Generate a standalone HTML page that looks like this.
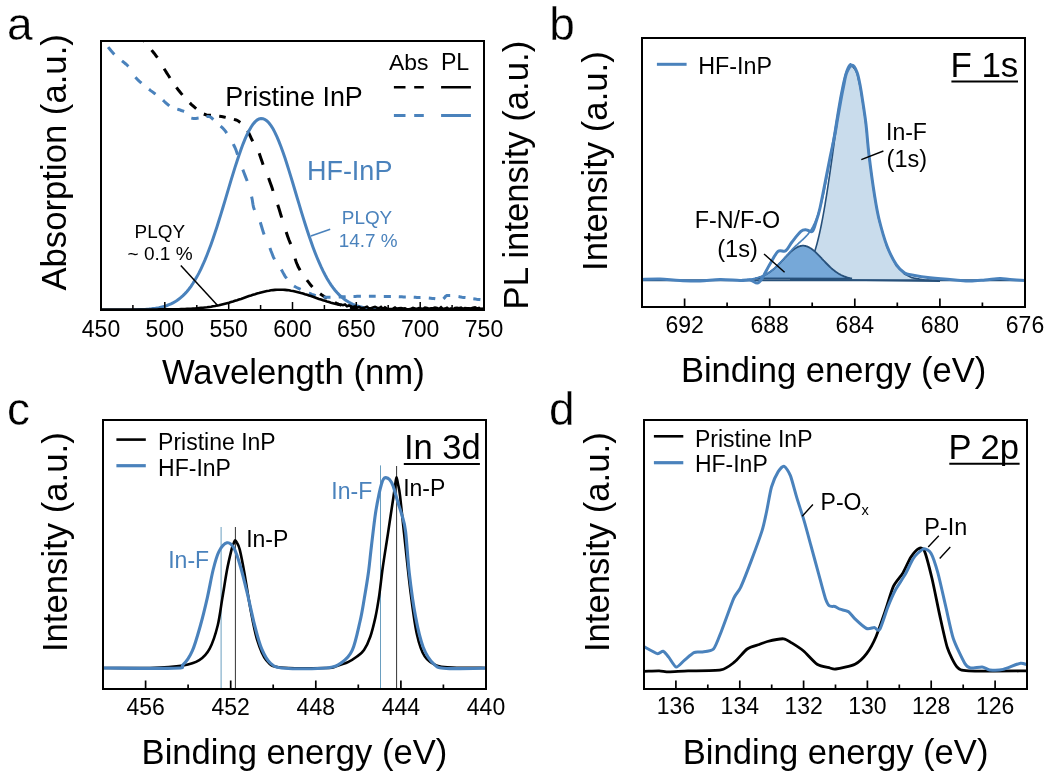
<!DOCTYPE html>
<html><head><meta charset="utf-8"><style>html,body{margin:0;padding:0;background:#fff;width:1051px;height:779px;overflow:hidden}svg{display:block;will-change:transform}</style></head><body>
<svg width="1051" height="779" viewBox="0 0 1051 779" font-family='"Liberation Sans", sans-serif'>
<rect width="1051" height="779" fill="#fff"/>
<defs><clipPath id="ca"><rect x="101" y="41" width="383" height="269"/></clipPath>
<clipPath id="cb"><rect x="642" y="38" width="383" height="269"/></clipPath>
<clipPath id="cc"><rect x="103" y="420" width="383" height="269"/></clipPath>
<clipPath id="cd"><rect x="644" y="420" width="383" height="269"/></clipPath></defs>
<g clip-path="url(#ca)">
<path d="M141 37 L141.8 38.1 L143 39.7 L144.5 41.6 M151.6 50.1 L154.1 53.2 L156.6 56.5 L157.4 57.7 M164.1 68.8 L165.4 70.8 L166.7 72.9 L168.1 75 L169.5 77.2 L170 78 M176.4 87.4 L178 89.5 L179.6 91.5 L181.3 93.6 L182.4 94.9 M189.8 102.9 L191.5 104.6 L193.3 106.2 L195 107.7 L196.2 108.7 M203.8 114 L206.4 115 L208.8 115.3 L211 115.3 M219.2 116.3 L221.6 116.6 L223.8 117 L225.7 117.4 M233.9 119.4 L236.2 120 L238.3 121 L240.3 122.4 M247.7 130.7 L249.1 133.6 L250.5 136.6 L251.8 139.5 L252.8 141.2 M259.2 153.3 L260.7 157.7 L262.2 162.1 L263.1 164.7 M268.6 178.1 L269.7 181.2 L270.9 184.6 L272.2 188.3 L273 190.9 M277.7 204.8 L279 208.8 L280 212 L280.8 214.8 L281.7 217.6 M286.2 232.1 L287.7 236.4 L289.1 240.2 L290.3 243.1 L290.7 244.1 M295.1 258.6 L296.2 262 L297.3 264.7 L298.3 267 L299.6 269.3 L300.1 270.2 M306.9 280.1 L308.7 282.4 L310.5 284.8 L312.4 287 M320.1 293.8 L321.5 294.8 L323 295.8 L324.5 296.8 L326 297.7 L327 298.3 M334.9 302.5 L336.7 303.4 L338.5 304.2 L340.3 304.9 L341.5 305.3 M350 307.3 L352.1 307.7 L354.1 307.9 L355.6 308.1 L356.7 308.2 M364.6 308.6 L366.1 308.7 L367.7 308.7 L369.4 308.8 L371 308.8 L371.6 308.8 M379.7 309 L381.3 309 L382.9 309 L384.5 309.1 L386 309.1 L386.5 309.1 M394.4 309.1 L396.1 309.1 L397.8 309.1 L399.4 309.1 L401.1 309.2 L401.6 309.2 M409.4 309.2 L410.9 309.2 L412.5 309.2 L414.1 309.2 L415.7 309.2 L416.3 309.2 M424.6 309.2 L426.2 309.2 L427.7 309.2 L429.3 309.2 L430.8 309.2 L431.3 309.2 M439.6 309.2 L441.1 309.2 L442.7 309.2 L444.3 309.2 L445.9 309.2 L446.5 309.2 M454.5 309.2 L456.1 309.2 L457.7 309.2 L459.2 309.2 L460.8 309.2 L461.3 309.2 M469.4 309.2 L471 309.2 L472.7 309.2 L474.3 309.2 L475.9 309.2 L476.5 309.2 M484.4 309.2 L486 309.2" fill="none" stroke="#000" stroke-width="3"/>
<path d="M98 37 L98.9 37.7 L100.2 38.7 L101.3 39.5 M108.1 47.1 L109.5 48.8 L110.9 50.5 L112.4 52.2 L113.9 53.9 L114.4 54.4 M122 60.8 L123.9 62.4 L125.8 64 L127.5 65.5 L128.4 66.4 M135.4 77.3 L137.9 80 L139.4 81.3 L140.9 82.6 L141.4 83.1 M149 89.3 L150.7 90.6 L152.5 91.9 L154.3 93.2 L155.5 94.1 M163 100.1 L164.4 101.5 L165.8 102.8 L168.5 105.2 L169.3 105.9 M177.3 109.1 L179.3 109.7 L181.3 110.5 L183.4 111.2 L184.1 111.5 M191.3 118.1 L193.3 118.5 L195.9 118.5 L198.6 118.1 M206.5 116.5 L208.3 116.4 L210.1 116.8 L211.7 118 L213.3 119.6 M220.6 126.1 L222.5 127.8 L224.2 129.6 L225.8 131.7 L226.7 133.1 M233.3 144.1 L234.7 147 L236.1 150.2 L237.2 153.6 L237.6 154.8 M242.8 169.6 L244 172.7 L245.2 175.9 L246.4 179 L247.2 181 M251.6 196.7 L252.2 199.4 L252.6 202.1 L253 204.6 L253.5 207.2 L254.5 210 M260.3 222.2 L261.2 225.2 L262.1 228.2 L263 231.3 L264.1 234.5 M269.9 247.9 L271 251 L272.1 253.8 L273.2 256.6 L274.5 259.3 M281.3 269.5 L282.6 271.9 L283.8 274.1 L285.1 276.3 L286.7 278.4 M294 285.9 L295.2 286.7 L296.7 287.5 L299 288.6 L300.6 289.4 M308.9 293.1 L310.4 293.7 L311.9 294.3 L313.6 294.9 L315.7 295.6 M323.5 297 L325.2 297.2 L327.1 297.2 L329 297.3 L330.5 297.3 M338.7 297.1 L340.6 297 L342.6 296.8 L344.1 296.8 L345.7 296.7 M353.5 296.4 L355.3 296.4 L357.1 296.3 L358.9 296.3 L360.4 296.3 L360.9 296.3 M368.9 296.3 L370.6 296.3 L372.3 296.3 L374 296.3 L375.7 296.3 M383.8 296.4 L385.6 296.4 L387.2 296.4 L388.8 296.5 L390.3 296.5 L390.9 296.5 M398.8 296.7 L400.4 296.8 L401.9 296.8 L403.4 296.9 L405.2 296.9 L405.8 296.9 M413.7 297.2 L415.3 297.3 L416.9 297.4 L418.4 297.4 L419.9 297.5 L420.5 297.5 M428.8 298 L430.7 298.2 L432.4 298.4 L433.9 298.6 L435.3 298.8 M443.4 298.8 L444.6 297.7 L445.5 296.4 L446.9 295.5 L449.1 295.4 L450.2 295.4 M458.5 296.6 L460.5 296.9 L462 297.2 L463.7 297.4 L465.5 297.6 M473.3 298.7 L475 298.9 L476.6 299.2 L478.2 299.4 L479.8 299.6 L480.4 299.7" fill="none" stroke="#4a82bc" stroke-width="3"/>
<path d="M101 310 L103 310 L105 310 L107 310 L109 310 L111 310 L113 310 L115 310 L117 310 L119 310 L121 310 L123 309.9 L125 309.9 L127 309.9 L129 309.9 L131 309.9 L133 309.8 L135 309.8 L137 309.7 L139 309.6 L141 309.6 L143 309.5 L145 309.4 L147 309.2 L149 309.1 L151 308.9 L153 308.6 L155 308.4 L157 308.1 L159 307.7 L161 307.2 L163 306.7 L165 306.2 L167 305.5 L169 304.7 L171 303.9 L173 302.9 L175 301.7 L177 300.5 L179 299 L181 297.4 L183 295.6 L185 293.6 L187 291.4 L189 289 L191 286.3 L193 283.3 L195 280.1 L197 276.6 L199 272.9 L201 268.8 L203 264.5 L205 259.9 L207 255 L209 249.8 L211 244.4 L213 238.7 L215 232.8 L217 226.7 L219 220.3 L221 213.9 L223 207.3 L225 200.6 L227 193.8 L229 187.1 L231 180.4 L233 173.9 L235 167.4 L237 161.2 L239 155.2 L241 149.5 L243 144.1 L245 139.2 L247 134.7 L249 130.7 L251 127.2 L253 124.2 L255 121.9 L257 120.1 L259 119 L261 118.5 L263 118.7 L265 119.5 L267 120.9 L269 123 L271 125.6 L273 128.8 L275 132.6 L277 136.9 L279 141.6 L281 146.8 L283 152.3 L285 158.1 L287 164.3 L289 170.6 L291 177.1 L293 183.8 L295 190.5 L297 197.2 L299 203.9 L301 210.6 L303 217.1 L305 223.5 L307 229.7 L309 235.8 L311 241.6 L313 247.2 L315 252.5 L317 257.5 L319 262.2 L321 266.7 L323 270.9 L325 274.8 L327 278.4 L329 281.8 L331 284.8 L333 287.6 L335 290.2 L337 292.5 L339 294.6 L341 296.5 L343 298.2 L345 299.8 L347 301.1 L349 302.3 L351 303.4 L353 304.3 L355 305.1 L357 305.8 L359 306.5 L361 307 L363 307.5 L365 307.9 L367 308.2 L369 308.5 L371 308.8 L373 309 L375 309.1 L377 309.3 L379 309.4 L381 309.5 L383 309.6 L385 309.7 L387 309.7 L389 309.8 L391 309.8 L393 309.9 L395 309.9 L397 309.9 L399 309.9 L401 309.9 L403 310 L405 310 L407 310 L409 310 L411 310 L413 310 L415 310 L417 310 L419 310 L421 310 L423 310 L425 310 L427 310 L429 310 L431 310 L433 310 L435 310 L437 310 L439 310 L441 310 L443 310 L445 310 L447 310 L449 310 L451 310 L453 310 L455 310 L457 310 L459 310 L461 310 L463 310 L465 310 L467 310 L469 310 L471 310 L473 310 L475 310 L477 310 L479 310 L481 310 L483 310" fill="none" stroke="#4a82bc" stroke-width="3"/>
<path d="M101 309.5 L103 309.5 L105 309.5 L107 309.5 L109 309.5 L111 309.5 L113 309.5 L115 309.5 L117 309.5 L119 309.5 L121 309.5 L123 309.5 L125 309.5 L127 309.5 L129 309.5 L131 309.5 L133 309.5 L135 309.5 L137 309.5 L139 309.5 L141 309.5 L143 309.5 L145 309.5 L147 309.5 L149 309.5 L151 309.5 L153 309.5 L155 309.5 L157 309.5 L159 309.4 L161 309.4 L163 309.4 L165 309.4 L167 309.4 L169 309.4 L171 309.3 L173 309.3 L175 309.3 L177 309.2 L179 309.2 L181 309.1 L183 309.1 L185 309 L187 308.9 L189 308.8 L191 308.7 L193 308.6 L195 308.5 L197 308.3 L199 308.1 L201 307.9 L203 307.7 L205 307.5 L207 307.3 L209 307 L211 306.7 L213 306.3 L215 306 L217 305.6 L219 305.2 L221 304.7 L223 304.2 L225 303.7 L227 303.2 L229 302.7 L231 302.1 L233 301.5 L235 300.8 L237 300.2 L239 299.5 L241 298.9 L243 298.2 L245 297.5 L247 296.8 L249 296.1 L251 295.5 L253 294.8 L255 294.2 L257 293.5 L259 293 L261 292.4 L263 291.9 L265 291.4 L267 291 L269 290.7 L271 290.3 L273 290.1 L275 289.9 L277 289.8 L279 289.7 L281 289.7 L283 289.8 L285 289.9 L287 290.1 L289 290.3 L291 290.7 L293 291 L295 291.4 L297 291.9 L299 292.4 L301 293 L303 293.5 L305 294.2 L307 294.8 L309 295.5 L311 296.1 L313 296.8 L315 297.5 L317 298.2 L319 298.9 L321 299.5 L323 300.2 L325 300.8 L327 301.5 L329 302.1 L331 302.7 L333 303.2 L335 303.7 L337 304.2 L339 304.7 L341 304.5 L343 305.2 L345 304.5 L347 306.2 L349 305.5 L351 306.2 L353 307.1 L355 306.4 L357 307.7 L359 307 L361 308 L363 308.1 L365 307.5 L367 306.8 L369 308.4 L371 308.3 L373 307.5 L375 306.9 L377 307.8 L379 308.3 L381 307 L383 309.1 L385 307.4 L387 308.7 L389 309 L391 309.1 L393 308.7 L395 307.6 L397 309 L399 308.2 L401 308 L403 308.6 L405 308.3 L407 309.3 L409 309.3 L411 309 L413 308 L415 308.5 L417 308.8 L419 308.2 L421 308.5 L423 308.8 L425 307.7 L427 308 L429 309 L431 308.2 L433 308.3 L435 307.6 L437 307.9 L439 308.9 L441 307.3 L443 309.2 L445 308.6 L447 307.8 L449 309.2 L451 308.4 L453 309.4 L455 308 L457 307.8 L459 308.2 L461 307.6 L463 308.8 L465 308 L467 308.2 L469 308.2 L471 308.5 L473 307.7 L475 307.4 L477 308.5 L479 308 L481 309.4 L483 308" fill="none" stroke="#000" stroke-width="2.6"/>
</g>
<rect x="101" y="41" width="383" height="269" fill="none" stroke="#000" stroke-width="2"/>
<path d="M164.8 310 V302 M228.7 310 V302 M292.5 310 V302 M356.3 310 V302 M420.2 310 V302 M132.9 310 V305 M196.8 310 V305 M260.6 310 V305 M324.4 310 V305 M388.2 310 V305 M452.1 310 V305" stroke="#000" stroke-width="1.5" fill="none"/>
<text x="101" y="336.6" font-size="23" fill="#000" text-anchor="middle">450</text>
<text x="164.8" y="336.6" font-size="23" fill="#000" text-anchor="middle">500</text>
<text x="228.7" y="336.6" font-size="23" fill="#000" text-anchor="middle">550</text>
<text x="292.5" y="336.6" font-size="23" fill="#000" text-anchor="middle">600</text>
<text x="356.3" y="336.6" font-size="23" fill="#000" text-anchor="middle">650</text>
<text x="420.2" y="336.6" font-size="23" fill="#000" text-anchor="middle">700</text>
<text x="484" y="336.6" font-size="23" fill="#000" text-anchor="middle">750</text>
<text x="225.3" y="105.9" font-size="26.9" fill="#000" text-anchor="start">Pristine InP</text>
<text x="306.9" y="180.4" font-size="27" fill="#4a82bc" text-anchor="start">HF-InP</text>
<text x="388.9" y="69.6" font-size="22.9" fill="#000" text-anchor="start">Abs</text>
<text x="440.9" y="69.6" font-size="23.2" fill="#000" text-anchor="start">PL</text>
<path d="M393.9 87.2 H405.5 M414.2 87.2 H423.8 M441.1 87.2 H470.9" stroke="#000" stroke-width="2.6"/>
<path d="M393.9 115.4 H405.5 M414.2 115.4 H423.8 M441.1 115.4 H470.9" stroke="#4a82bc" stroke-width="3"/>
<text x="134.6" y="237.9" font-size="18.9" fill="#000" text-anchor="start">PLQY</text>
<text x="127.6" y="260.4" font-size="19" fill="#000" text-anchor="start">~ 0.1 %</text>
<path d="M180.8 265.4 L218.3 306.2" stroke="#000" stroke-width="1.5"/>
<text x="341.8" y="224.1" font-size="18.9" fill="#4a82bc" text-anchor="start">PLQY</text>
<text x="338.7" y="247.1" font-size="18.9" fill="#4a82bc" text-anchor="start">14.7 %</text>
<path d="M310.9 236.1 L330.2 229.3" stroke="#4a82bc" stroke-width="1.6"/>
<text x="7" y="39.5" font-size="46" fill="#000" text-anchor="start" stroke="#fff" stroke-width="0.35">a</text>
<text x="161.9" y="384.3" font-size="34.7" fill="#000" text-anchor="start">Wavelength (nm)</text>
<text transform="translate(66.2 290.6) rotate(-90)" font-size="34.7" text-anchor="start">Absorption (a.u.)</text>
<text transform="translate(528.1 309.4) rotate(-90)" font-size="34.7" text-anchor="start">PL intensity (a.u.)</text>
<g clip-path="url(#cb)">
<path d="M790 279.2 L790.5 279.2 L791 279.1 L791.5 279 L792 278.9 L792.5 278.8 L793 278.7 L793.5 278.6 L794 278.5 L794.5 278.3 L795 278.2 L795.5 278 L796 277.8 L796.5 277.7 L797 277.5 L797.5 277.2 L798 277 L798.5 276.8 L799 276.5 L799.5 276.2 L800 275.9 L800.5 275.6 L801 275.2 L801.5 274.9 L802 274.5 L802.5 274 L803 273.6 L803.5 273.1 L804 272.6 L804.5 272.1 L805 271.5 L805.5 270.9 L806 270.2 L806.5 269.6 L807 268.8 L807.5 268.1 L808 267.3 L808.5 266.4 L809 265.5 L809.5 264.6 L810 263.6 L810.5 262.5 L811 261.5 L811.5 260.3 L812 259.1 L812.5 257.8 L813 256.5 L813.5 255.1 L814 253.7 L814.5 252.2 L815 250.6 L815.5 249 L816 247.3 L816.5 245.5 L817 243.7 L817.5 241.8 L818 239.8 L818.5 237.8 L819 235.6 L819.5 233.5 L820 231.2 L820.5 228.9 L821 226.5 L821.5 224 L822 221.4 L822.5 218.8 L823 216.2 L823.5 213.4 L824 210.6 L824.5 207.7 L825 204.8 L825.5 201.7 L826 198.7 L826.5 195.6 L827 192.4 L827.5 189.1 L828 185.9 L828.5 182.5 L829 179.2 L829.5 175.8 L830 172.3 L830.5 168.9 L831 165.4 L831.5 161.8 L832 158.3 L832.5 154.8 L833 151.2 L833.5 147.6 L834 144.1 L834.5 140.5 L835 137 L835.5 133.5 L836 130 L836.5 126.6 L837 123.1 L837.5 119.8 L838 116.4 L838.5 113.2 L839 110 L839.5 106.8 L840 103.8 L840.5 100.8 L841 97.9 L841.5 95.1 L842 92.4 L842.5 89.8 L843 87.3 L843.5 84.9 L844 82.6 L844.5 80.4 L845 78.4 L845.5 76.5 L846 74.8 L846.5 73.2 L847 71.7 L847.5 70.4 L848 69.2 L848.5 68.2 L849 67.3 L849.5 66.6 L850 66 L850.5 65.6 L851 65.4 L851.5 65.3 L852 65.9 L852.5 66.4 L853 67 L853.5 67.5 L854 68.1 L854.5 68.6 L855 69.2 L855.5 70.3 L856 71.3 L856.5 72.4 L857 73.4 L857.5 75.4 L858 77.6 L858.5 79.7 L859 81.9 L859.5 84 L860 86.1 L860.5 88.8 L861 91.9 L861.5 95 L862 98.1 L862.5 101.2 L863 104.4 L863.5 107.8 L864 111.2 L864.5 114.5 L865 117.9 L865.5 121.6 L866 126 L866.5 130.3 L867 135.4 L867.5 140.6 L868 145.8 L868.5 151 L869 156.2 L869.5 159.8 L870 163.5 L870.5 167.1 L871 170.7 L871.5 174.4 L872 178 L872.5 181.7 L873 185.3 L873.5 188.9 L874 192.6 L874.5 196.2 L875 198.9 L875.5 201.5 L876 204.2 L876.5 206.9 L877 209.5 L877.5 212.2 L878 214.9 L878.5 217.5 L879 220.2 L879.5 221.9 L880 223.6 L880.5 225.3 L881 226.9 L881.5 228.6 L882 230.3 L882.5 232 L883 233.7 L883.5 235.4 L884 237.1 L884.5 238.8 L885 240.4 L885.5 242.1 L886 243.8 L886.5 245.5 L887 247.2 L887.5 248.2 L888 249.2 L888.5 250.2 L889 251.2 L889.5 252.2 L890 253.2 L890.5 254.2 L891 255.2 L891.5 256.2 L892 257.2 L892.5 258.2 L893 259.2 L893.5 260.2 L894 261.2 L894.5 262.2 L895 263.2 L895.5 264.2 L896 265.2 L896.5 266 L897 266.5 L897.5 267 L898 267.5 L898.5 268 L899 268.5 L899.5 269 L900 269.5 L900.5 270 L901 270.5 L901.5 271 L902 271.5 L902.5 272 L903 272.5 L903.5 273 L904 273.5 L904.5 274 L905 274.3 L905.5 274.6 L906 274.8 L906.5 275.1 L907 275.3 L907.5 275.5 L908 275.8 L908.5 276 L909 276.3 L909.5 276.5 L910 276.7 L910.5 277 L911 277.2 L911.5 277.5 L912 277.7 L912.5 277.8 L913 277.9 L913.5 278 L914 278.1 L914.5 278.2 L915 278.3 L915.5 278.4 L916 278.5 L916.5 278.6 L917 278.7 L917.5 278.8 L918 278.9 L918.5 278.9 L919 279 L919.5 279.1 L920 279.2 L920.5 279.3 L921 279.4 L921.5 279.5 L922 279.6 L922.5 279.7 L923 279.8 L923.5 279.9 L924 280 L924.5 280.1 L925 280.2 L925.5 280.2 L926 280.3 L926.5 280.3 L927 280.3 L927.5 280.4 L928 280.4 L928.5 280.4 L929 280.5 L929.5 280.5 L930 280.5 L930.5 280.6 L931 280.6 L931.5 280.6 L932 280.7 L932.5 280.7 L933 280.7 L933.5 280.8 L934 280.8 L934.5 280.8 L935 280.9 L935.5 280.9 L936 280.9 L936.5 281 L937 281 L937.5 281 L938 281.1 L938.5 281.1 L939 281.1 L939.5 281.2 L940 281.2 Z" fill="#c9dcec" stroke="#27507a" stroke-width="1.6"/>
<path d="M755 278.4 L755.5 278.3 L756 278.2 L756.5 278.1 L757 277.9 L757.5 277.8 L758 277.7 L758.5 277.5 L759 277.4 L759.5 277.2 L760 277.1 L760.5 276.9 L761 276.7 L761.5 276.5 L762 276.3 L762.5 276.1 L763 275.9 L763.5 275.7 L764 275.5 L764.5 275.2 L765 275 L765.5 274.7 L766 274.4 L766.5 274.2 L767 273.9 L767.5 273.6 L768 273.3 L768.5 272.9 L769 272.6 L769.5 272.3 L770 271.9 L770.5 271.6 L771 271.2 L771.5 270.8 L772 270.4 L772.5 270 L773 269.6 L773.5 269.2 L774 268.8 L774.5 268.3 L775 267.9 L775.5 267.4 L776 267 L776.5 266.5 L777 266 L777.5 265.5 L778 265 L778.5 264.5 L779 264 L779.5 263.5 L780 263 L780.5 262.5 L781 262 L781.5 261.4 L782 260.9 L782.5 260.4 L783 259.8 L783.5 259.3 L784 258.8 L784.5 258.2 L785 257.7 L785.5 257.2 L786 256.6 L786.5 256.1 L787 255.6 L787.5 255.1 L788 254.6 L788.5 254.1 L789 253.6 L789.5 253.1 L790 252.6 L790.5 252.1 L791 251.7 L791.5 251.2 L792 250.8 L792.5 250.4 L793 250 L793.5 249.6 L794 249.2 L794.5 248.8 L795 248.5 L795.5 248.2 L796 247.9 L796.5 247.6 L797 247.3 L797.5 247.1 L798 246.8 L798.5 246.6 L799 246.4 L799.5 246.3 L800 246.1 L800.5 246 L801 245.9 L801.5 245.8 L802 245.7 L802.5 245.7 L803 245.7 L803.5 245.7 L804 245.7 L804.5 245.8 L805 245.9 L805.5 246 L806 246.1 L806.5 246.3 L807 246.4 L807.5 246.6 L808 246.8 L808.5 247.1 L809 247.3 L809.5 247.6 L810 247.9 L810.5 248.2 L811 248.5 L811.5 248.8 L812 249.2 L812.5 249.6 L813 250 L813.5 250.4 L814 250.8 L814.5 251.2 L815 251.7 L815.5 252.1 L816 252.6 L816.5 253.1 L817 253.6 L817.5 254.1 L818 254.6 L818.5 255.1 L819 255.6 L819.5 256.1 L820 256.6 L820.5 257.2 L821 257.7 L821.5 258.2 L822 258.8 L822.5 259.3 L823 259.8 L823.5 260.4 L824 260.9 L824.5 261.4 L825 262 L825.5 262.5 L826 263 L826.5 263.5 L827 264 L827.5 264.5 L828 265 L828.5 265.5 L829 266 L829.5 266.5 L830 267 L830.5 267.4 L831 267.9 L831.5 268.3 L832 268.8 L832.5 269.2 L833 269.6 L833.5 270 L834 270.4 L834.5 270.8 L835 271.2 L835.5 271.6 L836 271.9 L836.5 272.3 L837 272.6 L837.5 272.9 L838 273.3 L838.5 273.6 L839 273.9 L839.5 274.2 L840 274.4 L840.5 274.7 L841 275 L841.5 275.2 L842 275.5 L842.5 275.7 L843 275.9 L843.5 276.1 L844 276.3 L844.5 276.5 L845 276.7 L845.5 276.9 L846 277.1 L846.5 277.2 L847 277.4 L847.5 277.5 L848 277.7 L848.5 277.8 L849 277.9 L849.5 278.1 L850 278.2 L850.5 278.3 L851 278.4 L851.5 278.5 L852 278.6 Z" fill="#76a8d8" stroke="#27507a" stroke-width="1.8"/>
<path d="M642 280.2 H1025" stroke="#27507a" stroke-width="2"/>
<path d="M740 279.8 L740.5 279.8 L741 279.8 L741.5 279.8 L742 279.8 L742.5 279.7 L743 279.7 L743.5 279.7 L744 279.7 L744.5 279.6 L745 279.6 L745.5 279.6 L746 279.5 L746.5 279.5 L747 279.5 L747.5 279.4 L748 279.4 L748.5 279.3 L749 279.3 L749.5 279.2 L750 279.2 L750.5 279.1 L751 279.1 L751.5 279 L752 278.9 L752.5 278.8 L753 278.8 L753.5 278.7 L754 278.6 L754.5 278.5 L755 278.4 L755.5 278.3 L756 278.2 L756.5 278.1 L757 277.9 L757.5 277.8 L758 277.7 L758.5 277.5 L759 277.4 L759.5 277.2 L760 277.1 L760.5 276.9 L761 276.7 L761.5 276.5 L762 276.3 L762.5 276.1 L763 275.9 L763.5 275.7 L764 275.5 L764.5 275.2 L765 275 L765.5 274.7 L766 274.4 L766.5 274.2 L767 273.9 L767.5 273.6 L768 273.3 L768.5 272.9 L769 272.6 L769.5 272.3 L770 271.9 L770.5 271.6 L771 271.2 L771.5 270.8 L772 270.4 L772.5 270 L773 269.6 L773.5 269.2 L774 268.8 L774.5 268.3 L775 267.9 L775.5 267.4 L776 266.9 L776.5 266.5 L777 266 L777.5 265.5 L778 265 L778.5 264.5 L779 264 L779.5 263.4 L780 262.9 L780.5 262.4 L781 261.8 L781.5 261.3 L782 260.7 L782.5 260.2 L783 259.6 L783.5 259.1 L784 258.5 L784.5 258 L785 257.4 L785.5 256.8 L786 256.3 L786.5 255.7 L787 255.2 L787.5 254.6 L788 254 L788.5 253.5 L789 252.9 L789.5 252.4 L790 251.8 L790.5 251.3 L791 250.8 L791.5 250.2 L792 249.7 L792.5 249.2 L793 248.7 L793.5 248.2 L794 247.7 L794.5 247.2 L795 246.7 L795.5 246.2 L796 245.7 L796.5 245.2 L797 244.8 L797.5 244.3 L798 243.8 L798.5 243.4 L799 242.9 L799.5 242.5 L800 242 L800.5 241.6 L801 241.1 L801.5 240.7 L802 240.2 L802.5 239.8 L803 239.3 L803.5 238.8 L804 238.4 L804.5 237.9 L805 237.4 L805.5 236.9 L806 236.3 L806.5 235.8 L807 235.3 L807.5 234.7 L808 234.1 L808.5 233.5 L809 232.8 L809.5 232.2 L810 231.5 L810.5 230.7 L811 229.9 L811.5 229.1 L812 228.3 L812.5 227.4 L813 226.5 L813.5 225.5 L814 224.5 L814.5 223.4 L815 222.3 L815.5 221.1 L816 219.9 L816.5 218.6 L817 217.3 L817.5 215.8 L818 214.4 L818.5 212.8 L819 211.2 L819.5 209.6 L820 207.8 L820.5 206 L821 204.2 L821.5 202.2 L822 200.2 L822.5 198.1 L823 196 L823.5 193.8 L824 191.5 L824.5 189.1 L825 186.7 L825.5 184.2 L826 181.7 L826.5 179.1 L827 176.4 L827.5 173.7 L828 170.9 L828.5 168.1 L829 165.2 L829.5 162.3 L830 159.3 L830.5 156.3 L831 153.3 L831.5 150.2 L832 147.1 L832.5 144 L833 140.8 L833.5 137.7 L834 134.5 L834.5 131.4 L835 128.2 L835.5 125.1 L836 121.9 L836.5 118.8 L837 115.8 L837.5 112.7 L838 109.7 L838.5 106.7 L839 103.8 L839.5 101 L840 98.2 L840.5 95.5 L841 92.8 L841.5 90.3 L842 87.8 L842.5 85.4 L843 83.2 L843.5 81 L844 78.9 L844.5 77 L845 75.1 L845.5 73.4 L846 71.8 L846.5 70.4 L847 69.1 L847.5 67.9 L848 66.9 L848.5 66 L849 65.2 L849.5 64.6 L850 64.2 L850.5 63.9 L851 63.8 L851.5 63.8" fill="none" stroke="#4a82bc" stroke-width="1.7"/>
<path d="M642 279.5 C645 279.4 653.7 278.8 660 279 C666.3 279.2 673.3 280.2 680 280.5 C686.7 280.8 693.3 281.2 700 281 C706.7 280.8 713.3 279.6 720 279.5 C726.7 279.4 735 280.4 740 280.5 C745 280.6 747.1 279.6 750 280 C752.9 280.4 755.2 283.2 757.2 283 C759.2 282.8 759.9 281.7 762 278.5 C764.1 275.3 767.3 268.5 770 264 C772.7 259.5 775.4 253.6 778 251.4 C780.6 249.2 783.4 252.4 785.7 250.8 C788 249.2 789.5 245.2 792 242 C794.5 238.8 798.5 233.4 800.9 231.4 C803.3 229.4 804.7 229.9 806.6 229.9 C808.5 229.9 810.7 232.7 812.3 231.4 C813.9 230.1 814.7 225.8 816 222 C817.3 218.2 818.3 215.5 819.9 208.5 C821.5 201.5 823.9 188.8 825.6 180 C827.4 171.2 828.8 163.5 830.4 155.8 C832 148.1 833.8 140.2 835 134 C836.2 127.8 836.6 124.2 837.6 118.7 C838.6 113.2 839.7 106.7 840.7 101.2 C841.7 95.7 842.7 90.6 843.7 85.8 C844.7 81 845.3 75.9 846.8 72.5 C848.3 69.1 850.8 65.3 852.5 65.3 C854.2 65.3 855.8 69.1 857.1 72.5 C858.4 75.9 859.3 81 860.2 85.8 C861.1 90.6 861.9 95.7 862.7 101.2 C863.6 106.7 864.6 113.9 865.3 118.7 C865.9 123.5 866 124 866.6 130 C867.2 136.1 867.7 144.2 869 155 C870.3 165.8 872.8 184.3 874.5 195 C876.2 205.7 876.9 210.5 879 219 C881.1 227.5 884.1 238.4 887 246 C889.9 253.6 893.3 260.1 896.3 264.6 C899.2 269.1 902.1 271.3 904.7 273 C907.3 274.7 907.8 274.2 912 275 C916.2 275.8 922.8 277 930 277.8 C937.2 278.6 948.3 279.5 955 280 C961.7 280.5 965 281 970 281 C975 281 980 280.4 985 280 C990 279.6 995.8 278.6 1000 278.5 C1004.2 278.4 1005.8 279.2 1010 279.5 C1014.2 279.8 1022.5 280.3 1025 280.5" fill="none" stroke="#4a82bc" stroke-width="3"/>
</g>
<rect x="642" y="38" width="383" height="269" fill="none" stroke="#000" stroke-width="2"/>
<path d="M684.6 307 V298.4 M769.7 307 V298.4 M854.8 307 V298.4 M939.9 307 V298.4 M1025 307 V298.4 M727.1 307 V302.6 M812.2 307 V302.6 M897.3 307 V302.6 M982.4 307 V302.6" stroke="#000" stroke-width="1.7" fill="none"/>
<text x="684.6" y="333.2" font-size="23" fill="#000" text-anchor="middle">692</text>
<text x="769.7" y="333.2" font-size="23" fill="#000" text-anchor="middle">688</text>
<text x="854.8" y="333.2" font-size="23" fill="#000" text-anchor="middle">684</text>
<text x="939.9" y="333.2" font-size="23" fill="#000" text-anchor="middle">680</text>
<text x="1025" y="333.2" font-size="23" fill="#000" text-anchor="middle">676</text>
<text x="549.3" y="39.8" font-size="46" fill="#000" text-anchor="start" stroke="#fff" stroke-width="0.35">b</text>
<text x="680.9" y="381.7" font-size="34.55" fill="#000" text-anchor="start">Binding energy (eV)</text>
<text transform="translate(607.4 271) rotate(-90)" font-size="34.7" text-anchor="start">Intensity (a.u.)</text>
<path d="M656.9 64.3 H686.6" stroke="#4a82bc" stroke-width="3"/>
<text x="698.2" y="74.1" font-size="23.3" fill="#000" text-anchor="start">HF-InP</text>
<text x="950.4" y="76.6" font-size="34.9" fill="#000" text-anchor="start">F 1s</text>
<path d="M951.4 81.4 H1018" stroke="#000" stroke-width="2"/>
<text x="886" y="140.4" font-size="23" fill="#000" text-anchor="start">In-F</text>
<text x="886.6" y="166.5" font-size="23.5" fill="#000" text-anchor="start">(1s)</text>
<path d="M861.3 159.7 L883.4 151" stroke="#000" stroke-width="1.4"/>
<text x="694.7" y="228.4" font-size="23.3" fill="#000" text-anchor="start">F-N/F-O</text>
<text x="717.3" y="256.5" font-size="23.5" fill="#000" text-anchor="start">(1s)</text>
<path d="M764 253.9 L784.6 272.2" stroke="#000" stroke-width="1.4"/>
<path d="M221.1 527 V689 M380.5 465.4 V689" stroke="#6a9fc0" stroke-width="1"/>
<path d="M235.4 527 V689 M396.6 466 V689" stroke="#333" stroke-width="1"/>
<g clip-path="url(#cc)">
<path d="M100 668 C108.3 668 136.2 668.4 150 668 C163.8 667.6 174.9 666.8 183.1 665.5 C191.3 664.2 194.9 662.9 199.3 660.1 C203.7 657.3 206.6 654.4 209.7 648.6 C212.8 642.8 215.6 634 217.7 625.5 C219.8 617 220.8 607 222.4 597.8 C224 588.5 225.5 578.1 227 570 C228.5 561.9 230.5 553.8 231.6 549.3 C232.7 544.8 233.2 544.5 233.8 543 C234.4 541.5 234.7 540.3 235.2 540.2 C235.7 540.1 236.1 541 236.8 542.5 C237.6 544 238.4 544.3 239.7 549.3 C240.9 554.3 242.6 562.8 244.3 572.4 C246 582 248 595.9 250.1 607 C252.2 618.1 254.3 630.4 257 639.3 C259.7 648.1 262.3 655.4 266.2 660.1 C270.1 664.8 270.1 666.2 280.1 667.5 C290.1 668.8 316.7 668.2 326.2 668 C335.7 667.8 333.4 667 337 666 C340.6 665 344.7 663.8 348 662.2 C351.3 660.6 354.3 658.5 357 656.5 C359.7 654.5 361.8 653.3 364 650 C366.2 646.7 368.4 642.1 370.3 636.7 C372.2 631.3 373.9 624.2 375.4 617.4 C376.9 610.5 378 603.5 379.2 595.6 C380.4 587.7 381.2 578.8 382.4 570 C383.6 561.2 385.1 551.9 386.5 543 C387.9 534.1 389.4 524 390.5 516.5 C391.6 509 392.5 503.4 393.3 498 C394.1 492.6 394.8 487.4 395.3 484 C395.8 480.6 396.1 477.3 396.5 477.3 C396.9 477.3 397.4 480.9 398 484 C398.6 487.1 399 487 400.1 496.2 C401.2 505.4 402.9 522.9 404.7 539.3 C406.5 555.7 408.8 578.9 410.9 594.8 C412.9 610.7 414.7 624.5 417 634.8 C419.3 645.1 421.3 651.2 424.7 656.4 C428.1 661.5 432.5 663.9 437.1 665.7 C441.7 667.6 443.7 667.1 452.5 667.5 C461.3 667.9 483.8 667.9 490 668" fill="none" stroke="#000" stroke-width="2.6"/>
<path d="M100 668 C112.3 668 160.1 668.8 173.9 668.2 C187.8 667.7 180 667.6 183.1 664.7 C186.2 661.8 189.4 657.4 192.3 650.9 C195.2 644.4 197.9 634.4 200.4 625.5 C202.9 616.6 205.2 607 207.3 597.8 C209.4 588.5 211.2 577.7 213.1 570 C215 562.3 216.6 556.1 218.9 551.6 C221.2 547.1 224.5 543.4 227 542.8 C229.5 542.2 231.6 544 233.9 548.1 C236.2 552.2 238.5 559.8 240.8 567.7 C243.1 575.6 245.5 585.9 247.8 595.5 C250.1 605.1 252.4 616.6 254.7 625.5 C257 634.4 258.9 642.2 261.6 648.6 C264.3 655 267 660.3 270.9 663.6 C274.8 666.9 275.5 667.5 284.7 668.2 C293.9 668.9 316.7 668.9 326.2 668 C335.7 667.1 337.2 665.6 341.6 662.6 C346 659.6 349.2 657.1 352.3 650.2 C355.4 643.4 358 630 360 621.5 C362 613 362.8 607.2 364.2 599 C365.6 590.8 367.3 580.9 368.5 572 C369.7 563.1 370.3 555.3 371.5 545.5 C372.7 535.7 374.2 522 375.5 513.3 C376.8 504.6 378.2 498.2 379.2 493.3 C380.2 488.4 380.8 486.4 381.5 484 C382.2 481.6 382.8 480.1 383.5 479 C384.2 477.9 384.8 477.5 385.8 477.6 C386.8 477.7 388.3 478.1 389.5 479.5 C390.7 480.9 391.7 482.1 393 485.7 C394.3 489.3 396 496.1 397.5 501 C399 505.9 400.6 510.3 402 515.4 C403.4 520.5 404.4 522 405.6 531.6 C406.8 541.2 407.7 559.1 409.3 573.2 C410.9 587.3 413.2 604.1 415.5 616.4 C417.8 628.7 420.1 639.2 423.2 647.2 C426.3 655.2 430.1 660.6 434 664.1 C437.9 667.6 437 667.9 446.3 668.5 C455.6 669.1 482.7 668.1 490 668" fill="none" stroke="#4a82bc" stroke-width="3.1"/>
</g>
<rect x="103" y="420" width="383" height="269" fill="none" stroke="#000" stroke-width="2"/>
<path d="M145.6 689 V680.4 M230.7 689 V680.4 M315.8 689 V680.4 M400.9 689 V680.4 M486 689 V680.4 M188.1 689 V684.6 M273.2 689 V684.6 M358.3 689 V684.6 M443.4 689 V684.6" stroke="#000" stroke-width="1.7" fill="none"/>
<text x="145.6" y="714.6" font-size="23" fill="#000" text-anchor="middle">456</text>
<text x="230.7" y="714.6" font-size="23" fill="#000" text-anchor="middle">452</text>
<text x="315.8" y="714.6" font-size="23" fill="#000" text-anchor="middle">448</text>
<text x="400.9" y="714.6" font-size="23" fill="#000" text-anchor="middle">444</text>
<text x="486" y="714.6" font-size="23" fill="#000" text-anchor="middle">440</text>
<text x="7" y="425" font-size="46" fill="#000" text-anchor="start" stroke="#fff" stroke-width="0.35">c</text>
<text x="141.6" y="763.5" font-size="34.6" fill="#000" text-anchor="start">Binding energy (eV)</text>
<text transform="translate(66.9 652.1) rotate(-90)" font-size="34.7" text-anchor="start">Intensity (a.u.)</text>
<path d="M116.4 439.6 H145.8" stroke="#000" stroke-width="2.6"/>
<path d="M116.4 465.7 H145.8" stroke="#4a82bc" stroke-width="3.2"/>
<text x="158.1" y="449.6" font-size="23" fill="#000" text-anchor="start">Pristine InP</text>
<text x="158.1" y="475.6" font-size="23" fill="#000" text-anchor="start">HF-InP</text>
<text x="403.9" y="459" font-size="34.5" fill="#000" text-anchor="start">In 3d</text>
<path d="M403.8 464 H479.9" stroke="#000" stroke-width="2"/>
<text x="209.1" y="568" font-size="23" fill="#4a82bc" text-anchor="end">In-F</text>
<text x="246.2" y="547.2" font-size="23" fill="#000" text-anchor="start">In-P</text>
<text x="331.3" y="499.3" font-size="23" fill="#4a82bc" text-anchor="start">In-F</text>
<text x="403.2" y="496.2" font-size="23" fill="#000" text-anchor="start">In-P</text>
<g clip-path="url(#cd)">
<path d="M644 671.3 C645.8 671.3 656.3 670.8 659.2 670.9 C662.1 671 665.5 671.9 668.9 671.9 C672.3 671.9 682 671.1 688.1 670.9 C694.2 670.7 715.4 670.9 720.8 669.9 C726.2 668.9 731.2 664.6 734.3 662.2 C737.4 659.8 744.3 651.1 747.2 649 C750.1 646.9 756.9 645.4 759.3 644.5 C761.7 643.6 764.6 642.2 767.4 641.5 C770.2 640.8 780.8 638.6 783.6 638.8 C786.4 639 789.4 641.5 791.7 642.9 C794 644.3 800.6 648.5 803.6 651 C806.6 653.5 814 662.2 817.1 664.2 C820.2 666.2 827.8 667.4 830 668 C832.2 668.6 832.9 669.4 835.8 669 C838.7 668.6 851.4 666 855 664.2 C858.6 662.4 864.1 656.9 866.6 653.6 C869.1 650.3 874 641.4 876.2 636.2 C878.4 631 883.8 615.1 885.8 609.3 C887.8 603.5 891.5 590.5 893.5 586.2 C895.5 581.9 901.1 576.1 903.1 572.7 C905.1 569.3 909 560.1 910.8 557.3 C912.6 554.5 916.9 549.5 918.5 548.7 C920.1 547.9 922.7 547.1 924.3 550.6 C925.9 554.1 930.2 571 932 578.5 C933.8 586 937.9 607 939.7 615.1 C941.5 623.2 945.4 641.7 947.4 647.8 C949.4 653.9 954.5 664.3 957 667 C959.5 669.7 960.1 670.4 968.6 670.9 C977.1 671.4 1022.8 670.9 1030 670.9" fill="none" stroke="#000" stroke-width="2.8" stroke-linejoin="round"/>
<path d="M644.2 646.8 C645.7 647.6 655.1 653.1 657.3 653.6 C659.5 654.1 661.7 650.9 663.1 651.3 C664.5 651.7 667.4 655.6 668.9 657.4 C670.4 659.2 674.4 666.7 676.2 667 C678 667.3 682.2 662 684.3 660.3 C686.4 658.6 691.9 653.6 693.9 652.6 C695.9 651.6 699.3 652.4 701.6 652 C703.9 651.6 711.2 651.6 713.5 649.1 C715.8 646.6 719.2 636.6 721.6 630.7 C724 624.8 731.5 603.4 733.7 598.4 C735.9 593.4 738.4 592 740.5 587.6 C742.6 583.2 748.8 567.2 751.3 560.6 C753.8 554 760.2 536.6 762 530.9 C763.8 525.2 765.4 517.1 766.5 512 C767.6 506.9 770.1 491.7 771.5 487 C772.9 482.3 776.7 474 778.2 471.6 C779.7 469.2 782.8 465.8 784.2 466.3 C785.6 466.8 788.9 471.8 790.4 475.6 C791.9 479.4 795.5 493.4 797.1 498.6 C798.7 503.8 802.3 514.8 803.9 520.1 C805.5 525.4 808.9 538.1 810.6 544.4 C812.3 550.7 817 567.8 818.7 574.1 C820.4 580.4 824.1 594.7 825.4 598.4 C826.7 602.1 828.4 605 829.5 605.9 C830.6 606.8 833.7 606.1 834.9 606.5 C836.1 606.9 838.4 608.6 840 609.2 C841.6 609.8 846.5 610.5 848.3 611.6 C850 612.7 852.9 616.9 855 618.9 C857.1 620.9 864.3 627.5 866.6 628.5 C868.9 629.5 872.8 627.5 874.3 627.6 C875.8 627.7 878.1 631.9 879.7 629.5 C881.3 627.1 885.9 612 887.7 607.4 C889.5 602.8 893.4 593.8 895.4 590 C897.4 586.2 903.1 578.2 905.1 574.6 C907.1 571 911.3 561.7 912.8 559.2 C914.3 556.7 916.7 554.2 918 553 C919.3 551.8 922.8 548.6 924.3 548.7 C925.8 548.8 929.5 550.7 931.1 553.5 C932.7 556.3 936.1 566.6 937.8 572.7 C939.5 578.8 943.7 597.8 945.5 605.4 C947.3 613 951 631.5 953.2 638.2 C955.4 644.9 962.7 659.7 964.7 663.2 C966.7 666.7 968.5 667.6 970.5 668 C972.5 668.4 979.8 666.8 982.1 667 C984.4 667.2 987.3 669.6 989.8 669.9 C992.3 670.2 999.6 670.2 1003.2 669.4 C1006.8 668.6 1017.5 663.6 1020.6 663.2 C1023.7 662.8 1028.9 665.7 1030 666" fill="none" stroke="#4a82bc" stroke-width="3" stroke-linejoin="round"/>
</g>
<rect x="644" y="420" width="383" height="269" fill="none" stroke="#000" stroke-width="2"/>
<path d="M675.9 689 V680.4 M739.8 689 V680.4 M803.6 689 V680.4 M867.4 689 V680.4 M931.2 689 V680.4 M995.1 689 V680.4 M707.8 689 V684.6 M771.7 689 V684.6 M835.5 689 V684.6 M899.3 689 V684.6 M963.2 689 V684.6" stroke="#000" stroke-width="1.7" fill="none"/>
<text x="675.9" y="714.3" font-size="23" fill="#000" text-anchor="middle">136</text>
<text x="739.8" y="714.3" font-size="23" fill="#000" text-anchor="middle">134</text>
<text x="803.6" y="714.3" font-size="23" fill="#000" text-anchor="middle">132</text>
<text x="867.4" y="714.3" font-size="23" fill="#000" text-anchor="middle">130</text>
<text x="931.2" y="714.3" font-size="23" fill="#000" text-anchor="middle">128</text>
<text x="995.1" y="714.3" font-size="23" fill="#000" text-anchor="middle">126</text>
<text x="549.1" y="425" font-size="46" fill="#000" text-anchor="start" stroke="#fff" stroke-width="0.35">d</text>
<text x="682.8" y="763.5" font-size="34.6" fill="#000" text-anchor="start">Binding energy (eV)</text>
<text transform="translate(609.3 652.1) rotate(-90)" font-size="34.7" text-anchor="start">Intensity (a.u.)</text>
<path d="M653.9 436.3 H683.3" stroke="#000" stroke-width="2.6"/>
<path d="M653.9 462.7 H683.3" stroke="#4a82bc" stroke-width="3.2"/>
<text x="694.9" y="446.5" font-size="23" fill="#000" text-anchor="start">Pristine InP</text>
<text x="694.9" y="472.3" font-size="23" fill="#000" text-anchor="start">HF-InP</text>
<text x="948.4" y="459.4" font-size="34.6" fill="#000" text-anchor="start">P 2p</text>
<path d="M949.3 463.8 H1019.6" stroke="#000" stroke-width="2"/>
<text x="820.6" y="509.9" font-size="23">P-O<tspan font-size="14.6" dy="5.4">x</tspan></text>
<text x="924.3" y="534.5" font-size="23.4" fill="#000" text-anchor="start">P-In</text>
<path d="M928.2 547 L938.8 535.8 M939.7 558.5 L950.3 547 M802.2 516.3 L812.9 504.5" stroke="#000" stroke-width="1.4"/>
</svg>
</body></html>
